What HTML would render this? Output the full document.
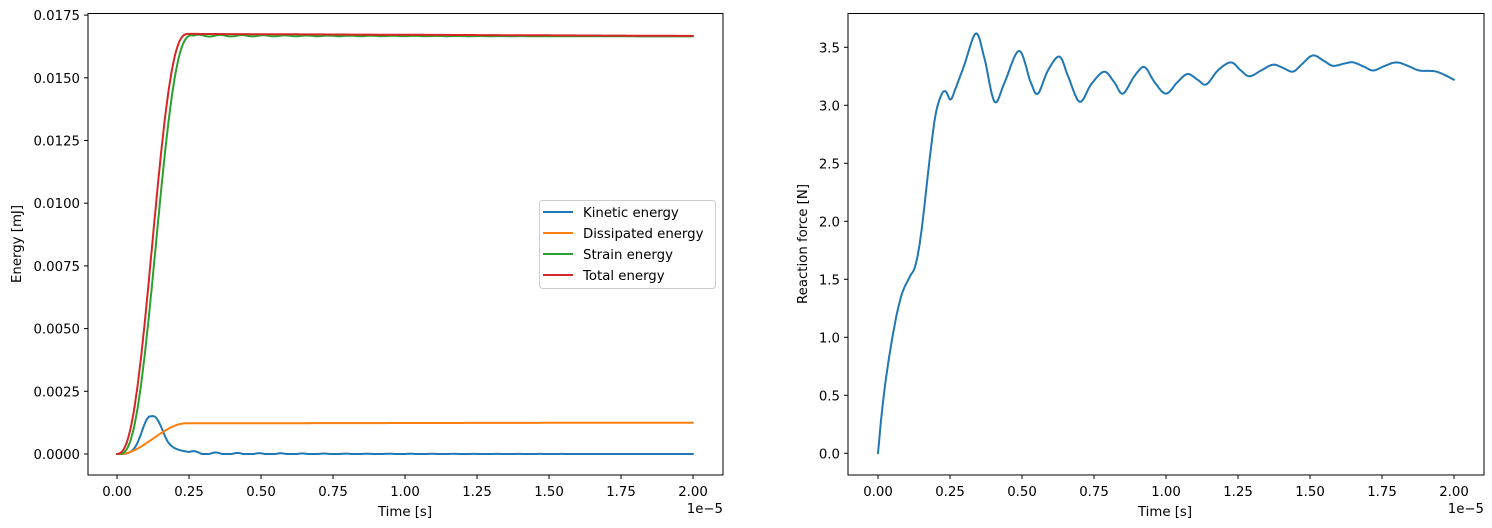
<!DOCTYPE html>
<html><head><meta charset="utf-8"><style>
body{margin:0;background:#fff}
svg{display:block;font-family:"DejaVu Sans","Liberation Sans",sans-serif;font-size:13.3px}
</style></head><body>
<svg id="s" width="1492" height="528" xmlns="http://www.w3.org/2000/svg"></svg>
<script>
const s=document.getElementById('s');let h='';
function smooth(x){x=Math.max(0,Math.min(1,x));return x*x*(3-2*x);}
function smoother(x){x=Math.max(0,Math.min(1,x));return x*x*x*(x*(6*x-15)+10);}
function cr(pts,n){const o=[];for(let i=0;i<pts.length-1;i++){const p0=pts[Math.max(0,i-1)],p1=pts[i],p2=pts[i+1],p3=pts[Math.min(pts.length-1,i+2)];for(let k=0;k<n;k++){const t=k/n,t2=t*t,t3=t2*t;const f=(a,b,c,d)=>0.5*(2*b+(-a+c)*t+(2*a-5*b+4*c-d)*t2+(-a+3*b-3*c+d)*t3);o.push([f(p0[0],p1[0],p2[0],p3[0]),f(p0[1],p1[1],p2[1],p3[1])]);}}o.push(pts[pts.length-1]);return o;}
function path(pts,c){return '<polyline fill="none" stroke="'+c+'" stroke-width="2" stroke-linejoin="round" stroke-linecap="round" points="'+pts.map(p=>p[0].toFixed(1)+','+p[1].toFixed(1)).join(' ')+'"/>';}
const LX=t=>117+t*288, LY=v=>454-v/0.0025*62.7;
function series(fn){const p=[];for(let i=0;i<=800;i++){const t=i/400;p.push([LX(t),LY(fn(t))]);}return p;}
const kin=t=>0.0015*Math.exp(-Math.pow((t-0.115)/0.04,2))+(t>0.115?0.0004*Math.exp(-(t-0.17)/0.05)*smooth((t-0.115)/0.05):0)+(t>0.25?0.00006*Math.sin((t-0.25)*2*Math.PI/0.075)*Math.exp(-(t-0.25)/0.4):0);
const dis=t=>0.00122*smooth((t-0.01)/0.23)+0.00003*t/2;
const strain=t=>t<0.265?0.0167*smoother((t-0.005)/0.26):0.01668-0.00003*(t-0.265)/1.7+0.00004*Math.sin((t-0.265)*2*Math.PI/0.075)*Math.exp(-(t-0.265)/0.4);
const tot=t=>t<0.25?0.01675*smoother((t+0.005)/0.255):0.01675-0.00008*(t-0.25)/1.75;
h+=path(series(t=>Math.max(kin(t),0)),'#1f77b4');
h+=path(series(dis),'#ff7f0e');
h+=path(series(strain),'#2ca02c');
h+=path(series(tot),'#d62728');
h+='<rect x="88" y="13.5" width="635" height="461.5" fill="none" stroke="#000" stroke-width="1"/>';
const xl=['0.00','0.25','0.50','0.75','1.00','1.25','1.50','1.75','2.00'];
xl.forEach((l,i)=>{const x=117+i*72;h+=`<line x1="${x}" y1="475" x2="${x}" y2="479" stroke="#000"/><text x="${x}" y="496" text-anchor="middle">${l}</text>`;});
for(let i=0;i<=7;i++){const y=454-i*62.7;h+=`<line x1="84" y1="${y}" x2="88" y2="${y}" stroke="#000"/><text x="80" y="${y+5}" text-anchor="end">${(i*0.0025).toFixed(4)}</text>`;}
h+='<text x="405" y="516" text-anchor="middle">Time [s]</text><text x="723" y="513" text-anchor="end">1e−5</text>';
h+='<text transform="translate(21,244) rotate(-90)" text-anchor="middle">Energy [mJ]</text>';
h+='<rect x="539.5" y="200.5" width="176" height="88" rx="3" fill="#fff" fill-opacity="0.8" stroke="#ccc"/>';
[['Kinetic energy','#1f77b4'],['Dissipated energy','#ff7f0e'],['Strain energy','#2ca02c'],['Total energy','#d62728']].forEach((e,i)=>{const y=212+i*21;h+=`<line x1="543" y1="${y}" x2="573" y2="${y}" stroke="${e[1]}" stroke-width="2"/><text x="583" y="${y+5}">${e[0]}</text>`;});
const RX=t=>878+t*288, RY=v=>453.3-v*116;
const F=[[0,0],[0.02,0.5],[0.05,1.0],[0.08,1.35],[0.11,1.52],[0.13,1.62],[0.15,1.9],[0.18,2.55],[0.20,2.92],[0.22,3.09],[0.235,3.12],[0.252,3.05],[0.27,3.15],[0.30,3.35],[0.34,3.62],[0.37,3.4],[0.405,3.03],[0.44,3.2],[0.49,3.47],[0.53,3.2],[0.555,3.1],[0.59,3.3],[0.63,3.42],[0.66,3.25],[0.70,3.03],[0.74,3.18],[0.785,3.29],[0.82,3.2],[0.85,3.1],[0.89,3.25],[0.925,3.33],[0.96,3.2],[1.0,3.1],[1.04,3.2],[1.075,3.27],[1.11,3.22],[1.14,3.18],[1.18,3.3],[1.225,3.37],[1.26,3.3],[1.29,3.25],[1.33,3.3],[1.37,3.35],[1.40,3.33],[1.44,3.29],[1.47,3.35],[1.51,3.43],[1.55,3.38],[1.58,3.34],[1.62,3.36],[1.65,3.37],[1.69,3.33],[1.72,3.3],[1.76,3.34],[1.80,3.37],[1.84,3.34],[1.88,3.3],[1.94,3.29],[2.0,3.22]];
h+=path(cr(F.map(p=>[RX(p[0]),RY(p[1])]),8),'#1f77b4');
h+='<rect x="848" y="13.5" width="636" height="461.5" fill="none" stroke="#000" stroke-width="1"/>';
xl.forEach((l,i)=>{const x=878+i*72;h+=`<line x1="${x}" y1="475" x2="${x}" y2="479" stroke="#000"/><text x="${x}" y="496" text-anchor="middle">${l}</text>`;});
for(let i=0;i<=7;i++){const y=453.3-i*58;h+=`<line x1="844" y1="${y}" x2="848" y2="${y}" stroke="#000"/><text x="840" y="${y+5}" text-anchor="end">${(i*0.5).toFixed(1)}</text>`;}
h+='<text x="1165" y="516" text-anchor="middle">Time [s]</text><text x="1484" y="513" text-anchor="end">1e−5</text>';
h+='<text transform="translate(807,244) rotate(-90)" text-anchor="middle">Reaction force [N]</text>';
s.innerHTML=h;
</script>
</body></html>
